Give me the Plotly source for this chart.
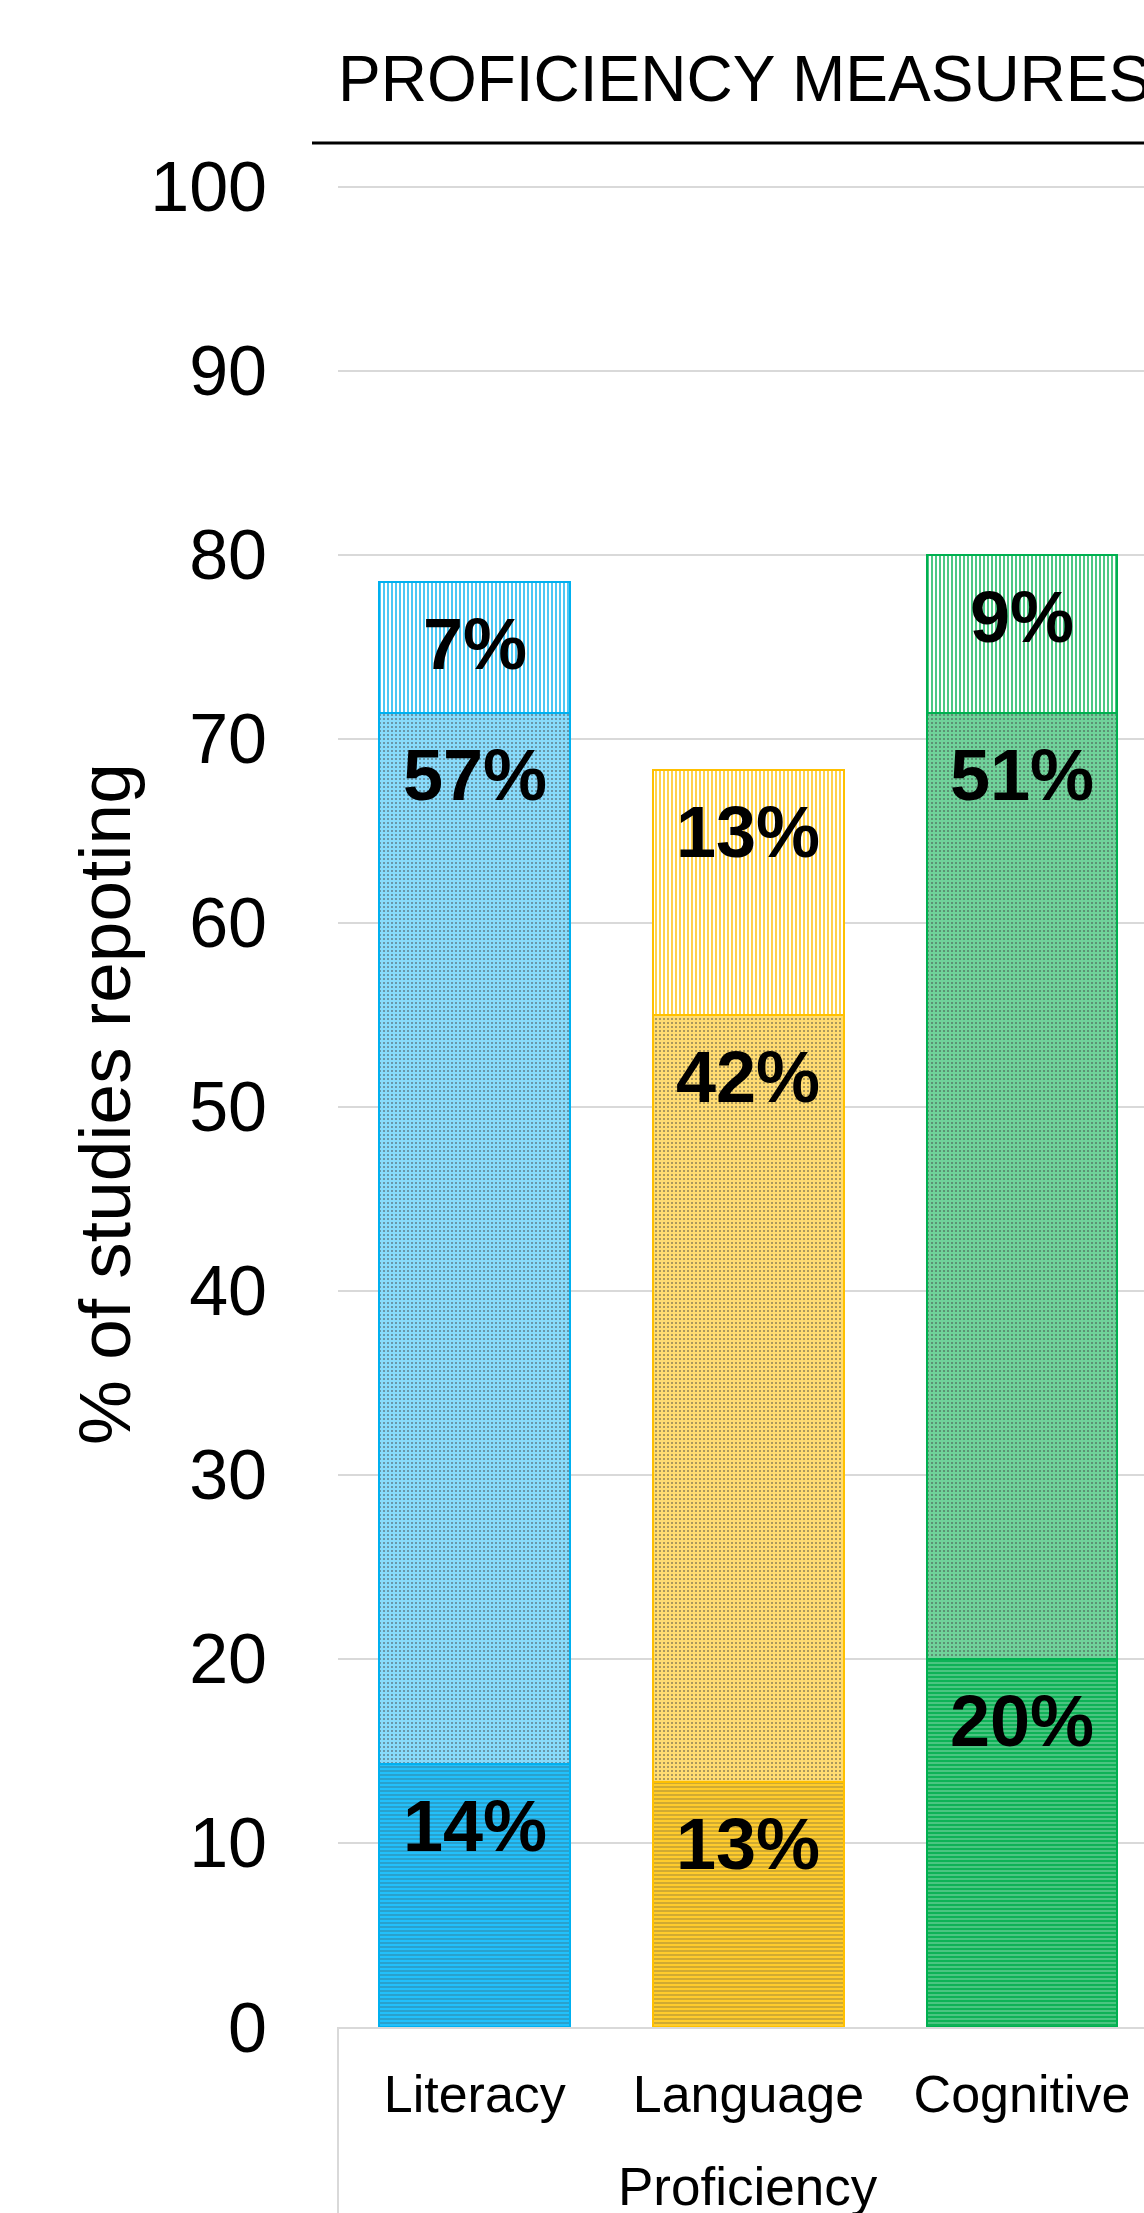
import plotly.graph_objects as go

# Share of studies reporting each kind of proficiency measure
categories = ["Literacy", "Language", "Cognitive"]
bottom_vals = [14.3, 13.3, 20.0]
middle_vals = [57.1, 41.7, 51.4]
top_vals = [7.1, 13.3, 8.6]

y_ticks = [0, 10, 20, 30, 40, 50, 60, 70, 80, 90, 100]

base_colors = ["#00B0F0", "#FFC000", "#00B050"]
bottom_fill = ["#22c0fb", "#ffcc2c", "#0fb257"]
bottom_dot = ["#b8ecff", "#fff0c0", "#a0e4bc"]
middle_fill = ["#88dbfb", "#ffdc72", "#70d29a"]
middle_dot = ["#e6f8ff", "#fff6d8", "#def5e8"]

FONT = "Liberation Sans, Arial, sans-serif"

W, H = 1144, 2213
ML, MR, MT, MB = 338, 0, 185, 186
Y_MAX = 100.1
plot_w = W - ML - MR
plot_h = H - MT - MB
band = 273.6  # pixel width of one category slot

fig = go.Figure()

fig.add_trace(go.Bar(
    name="bottom", x=categories, y=bottom_vals,
    marker=dict(
        color=bottom_fill,
        line=dict(color=base_colors, width=2),
        pattern=dict(shape="-", fgcolor=bottom_dot, fgopacity=0.5,
                     size=4, solidity=0.25, fillmode="overlay"),
    ),
    hoverinfo="skip",
))
fig.add_trace(go.Bar(
    name="middle", x=categories, y=middle_vals,
    marker=dict(
        color=middle_fill,
        line=dict(color=base_colors, width=2),
        pattern=dict(shape=".", fgcolor=middle_dot, fgopacity=0.6,
                     size=4, solidity=0.2, fillmode="overlay"),
    ),
    hoverinfo="skip",
))
fig.add_trace(go.Bar(
    name="top", x=categories, y=top_vals,
    marker=dict(
        color="#ffffff",
        line=dict(color=base_colors, width=2),
        pattern=dict(shape="|", bgcolor="#ffffff", fgcolor=base_colors,
                     size=4, solidity=0.35, fillmode="replace"),
    ),
    hoverinfo="skip",
))

# Percentage labels just inside the top of every segment
annotations = []
for i, cat in enumerate(categories):
    tops = [bottom_vals[i],
            bottom_vals[i] + middle_vals[i],
            bottom_vals[i] + middle_vals[i] + top_vals[i]]
    vals = [bottom_vals[i], middle_vals[i], top_vals[i]]
    for v, t in zip(vals, tops):
        annotations.append(dict(
            x=cat, y=t, xref="x", yref="y",
            text=f"<b>{v:.0f}%</b>", showarrow=False,
            yanchor="middle", yshift=-62,
            font=dict(family=FONT, size=72, color="#000000"),
        ))

# Panel heading
annotations.append(dict(
    x=(336 - ML) / plot_w, y=(H - MB - 79) / plot_h,
    xref="paper", yref="paper", xanchor="left", yanchor="middle",
    text="PROFICIENCY MEASURES", showarrow=False,
    font=dict(family=FONT, size=64, color="#000000"),
))
# Y axis title
annotations.append(dict(
    x=(104 - ML) / plot_w, y=(H - MB - 1104) / plot_h,
    xref="paper", yref="paper", xanchor="center", yanchor="middle",
    text="% of studies repoting", textangle=-90, showarrow=False,
    font=dict(family=FONT, size=73, color="#000000"),
))
# Group label under the categories
annotations.append(dict(
    x="Language", y=(H - MB - 2186) / plot_h,
    xref="x", yref="paper", xanchor="center", yanchor="middle",
    text="Proficiency", showarrow=False,
    font=dict(family=FONT, size=53, color="#000000"),
))

shapes = [
    # heading underline
    dict(type="line", xref="paper", yref="paper",
         x0=(312 - ML) / plot_w, x1=1.0,
         y0=(H - MB - 143) / plot_h, y1=(H - MB - 143) / plot_h,
         line=dict(color="#000000", width=3)),
    # left border of the category box
    dict(type="line", xref="paper", yref="paper",
         x0=0, x1=0, y0=0, y1=-MB / plot_h,
         line=dict(color="#d9d9d9", width=2)),
]

fig.update_layout(
    width=W, height=H,
    margin=dict(l=ML, r=MR, t=MT, b=MB, pad=0),
    barmode="stack", bargap=0.302,
    plot_bgcolor="#ffffff", paper_bgcolor="#ffffff",
    showlegend=False,
    annotations=annotations, shapes=shapes,
    font=dict(family=FONT, color="#000000"),
)
fig.update_yaxes(
    range=[0, Y_MAX], tickvals=y_ticks, ticktext=[str(t) for t in y_ticks],
    showgrid=True, gridcolor="#d9d9d9", gridwidth=2,
    zeroline=False, showline=False, ticks="",
    ticklabelstandoff=70,
    tickfont=dict(family=FONT, size=70, color="#000000"),
)
fig.update_xaxes(
    type="category", categoryorder="array", categoryarray=categories,
    range=[-0.5, -0.5 + plot_w / band],
    showgrid=False, zeroline=False,
    showline=True, linecolor="#d9d9d9", linewidth=2,
    ticks="", ticklabelstandoff=21,
    tickfont=dict(family=FONT, size=52, color="#000000"),
)

fig.write_html("out.html")
